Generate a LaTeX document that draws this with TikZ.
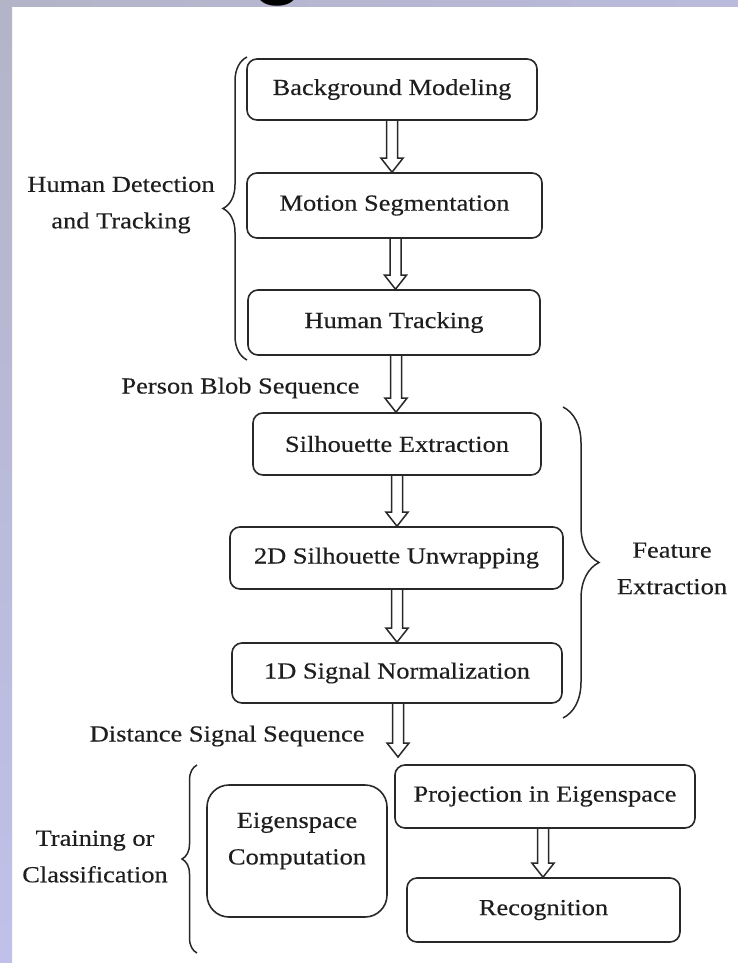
\documentclass[tikz,border=0pt]{standalone}
\usepackage{fontspec}
\setmainfont{Liberation Serif}[FakeStretch=1.15, FakeBold=0.35]
\newfontfamily\titlefont{Liberation Sans}
\usetikzlibrary{decorations.pathreplacing,calc}

\definecolor{slideedge}{RGB}{180,180,200}
\definecolor{slideedgeb}{RGB}{192,192,234}
\definecolor{slidetopr}{RGB}{186,186,220}
\definecolor{ink}{RGB}{40,40,40}
\definecolor{textink}{RGB}{30,30,30}

% hollow double-shaft arrow from a point (top) down to the y of a second point
\newcommand\hollowarrow[2]{%
  \draw[arrowline] let \p1=(#1), \p2=(#2) in
    (\x1-5.5pt,\y1) -- (\x1-5.5pt,\y2+14pt) -- (\x1-11pt,\y2+14pt) -- (\x1,\y2)
    -- (\x1+11pt,\y2+14pt) -- (\x1+5.5pt,\y2+14pt) -- (\x1+5.5pt,\y1);}

\begin{document}
\begin{tikzpicture}[x=1pt,y=-1pt,
  every node/.style={font=\fontsize{23}{36.5}\selectfont, text=textink},
  stage/.style={draw=ink, line width=1.6pt, rounded corners=10pt, fill=white,
                inner sep=0pt},
  arrowline/.style={draw=ink, line width=1.5pt, line join=miter},
  bracestyle/.style={draw=ink, line width=1.5pt, decorate}]

\useasboundingbox (0,0) rectangle (738,963);
\fill[white] (0,0) rectangle (738,963);

% slide background strips
\shade[top color=slideedge, bottom color=slideedgeb] (0,0) rectangle (12,963);
\shade[left color=slideedge, right color=slidetopr] (0,0) rectangle (738,7);
\begin{scope}
  \clip (0,0) rectangle (738,7);
  \node[font=\titlefont\fontsize{100}{100}\selectfont, text=black, anchor=base,
        inner sep=0pt] (titleg) at (278,-14) {g};
\end{scope}

% detection and tracking stages
\node[stage, minimum width=290pt, minimum height=61pt] (bm) at (392,89.5) {Background Modeling};
\node[stage, minimum width=295pt, minimum height=65pt] (ms) at (394.5,205.5) {Motion Segmentation};
\node[stage, minimum width=292pt, minimum height=65pt] (ht) at (394,322.5) {Human Tracking};

% feature extraction stages
\node[stage, minimum width=288pt, minimum height=62pt] (se) at (397,444) {Silhouette Extraction};
\node[stage, minimum width=333pt, minimum height=62pt] (uw) at (396.5,558) {2D Silhouette Unwrapping};
\node[stage, minimum width=330pt, minimum height=60pt] (sn) at (397,673) {1D Signal Normalization};

% training / classification stages
\node[stage, rounded corners=22pt, minimum width=180pt, minimum height=132pt] (ec) at (297,851) {};
\node[align=center] (ectext) at ([yshift=10pt]ec.center) {Eigenspace\\Computation};
\node[stage, minimum width=300pt, minimum height=63pt] (pe) at (545,796.5) {Projection in Eigenspace};
\node[stage, minimum width=273pt, minimum height=64pt] (re) at (543.5,910) {Recognition};

% flow arrows
\coordinate (dsend) at (398,757);
\hollowarrow{bm.south}{ms.north}
\hollowarrow{[xshift=1pt]ms.south}{ht.north}
\hollowarrow{[xshift=2pt]ht.south}{se.north}
\hollowarrow{se.south}{uw.north}
\hollowarrow{[xshift=0.5pt]uw.south}{sn.north}
\hollowarrow{[xshift=1pt]sn.south}{dsend}
\hollowarrow{[xshift=-2pt]pe.south}{re.north}

% data labels on the flow
\node[anchor=east] (pbs) at (363,388) {Person Blob Sequence};
\node[anchor=east] (dss) at (368,736) {Distance Signal Sequence};

% group braces and their labels
\draw[bracestyle, decoration={brace, amplitude=24pt}] (247,360) -- (247,57);
\node[align=center] (hdt) at (121,205) {Human Detection\\and Tracking};

\draw[bracestyle, decoration={brace, amplitude=36pt}] (563,407) -- (563,718);
\node[align=center] (fex) at (672,568.5) {Feature\\Extraction};

\draw[bracestyle, decoration={brace, amplitude=15pt}] (197,953) -- (197,765);
\node[align=center] (toc) at (95,856.5) {Training or\\Classification};

\end{tikzpicture}
\end{document}
